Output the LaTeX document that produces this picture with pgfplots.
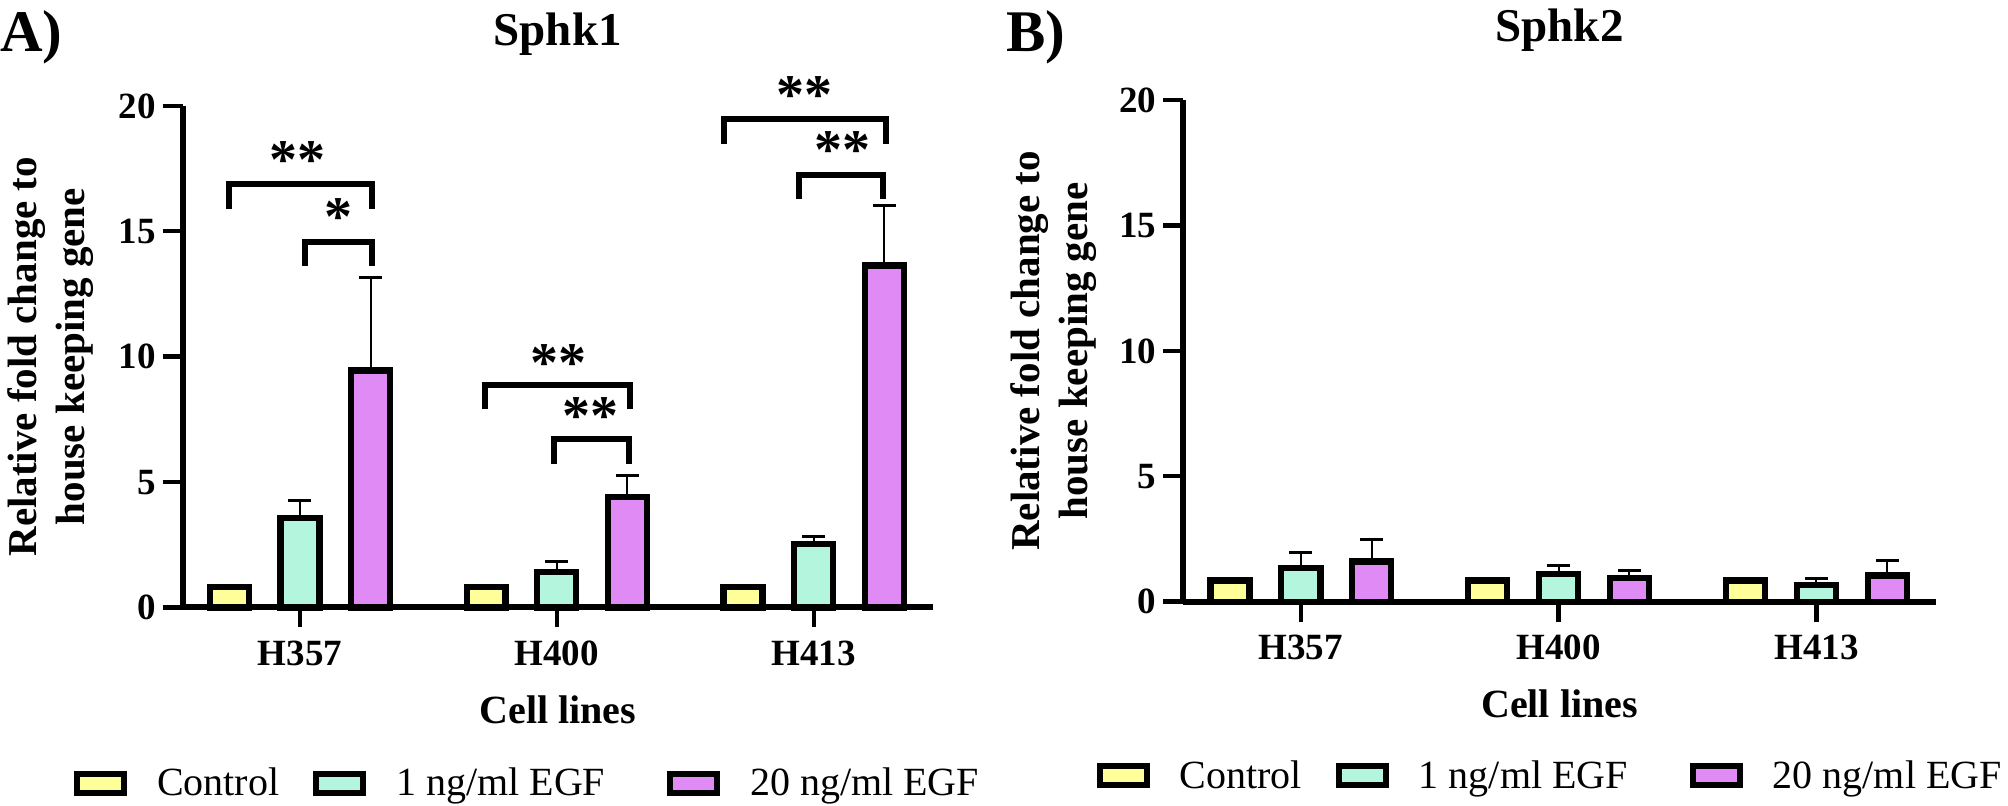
\documentclass[border=0pt]{standalone}
\usepackage{pgfplots}
\pgfplotsset{compat=1.18}
\usepackage{fontspec}
\setmainfont{Liberation Serif}
\definecolor{cctrl}{RGB}{255,255,153}
\definecolor{cone}{RGB}{180,245,222}
\definecolor{ctwenty}{RGB}{224,138,245}

\pgfplotsset{
  legimg/.style={legend image code/.code={\draw[##1, line width=3pt, draw=black] (0pt,-4.75pt) rectangle (23.5pt,4.75pt);}},
  barsty/.style={fill=#1, draw=black, line width=3.15pt, bar width=0.1517, legimg},
  errsty/.style={error bars/.cd, y dir=plus, y explicit,
     error bar style={line width=1pt, black, solid},
     error mark options={rotate=90, line width=1.5pt, black, mark size=5.7pt}},
  panel/.style={
    scale only axis, height=250.8pt, ybar,
    ymin=0, ymax=20, ytick={0,5,10,15,20},
    xmin=-0.456, xmax=2.463, xtick={0,1,2}, xticklabels={H357,H400,H413},
    axis lines*=left, axis line style={line width=3pt},
    tick align=outside, major tick length=10pt, tick style={line width=2.2pt, black},
    clip=false,
    /pgf/number format/assume math mode=true,
    yticklabel style={font=\bfseries\fontsize{18.5}{18.5}\selectfont},
    xticklabel style={font=\bfseries\fontsize{18.5}{18.5}\selectfont, yshift=-3pt},
    xlabel={Cell lines},
    xlabel style={font=\bfseries\fontsize{20}{20}\selectfont, at={(axis description cs:0.5,0)}, anchor=base, yshift=-58pt},
    ylabel={Relative fold change to\\house keeping gene},
    ylabel style={align=center, font=\bfseries\fontsize{20.5}{24}\selectfont, anchor=center},
    title style={font=\bfseries\fontsize{23.5}{23.5}\selectfont, at={(axis description cs:0.5,1)}, anchor=base},
    legend columns=3,
    legend style={draw=none, fill=none, inner sep=0pt, outer sep=0pt, anchor=west,
      font=\fontsize{20}{20}\selectfont, nodes={inner sep=0pt},
      /tikz/every odd column/.append style={column sep=15pt},
      /tikz/column 2/.append style={column sep=17pt},
      /tikz/column 4/.append style={column sep=31pt}},
  },
}

\begin{document}
\begin{tikzpicture}
\useasboundingbox (-91.35pt,-99.25pt) rectangle (912.65pt,303.75pt);

% ---------------- Panel A: Sphk1 ----------------
\begin{axis}[panel, width=375pt, title={Sphk1},
  title style={yshift=24pt},
  ylabel style={at={(axis description cs:-0.176,0.5)}},
  legend style={at={(axis description cs:-0.1449,-0.3499)}}]
\addplot[barsty=cctrl, bar shift=-0.275] table[x=x,y=y] {
x y
0 0.83
1 0.83
2 0.83
};
\addlegendentry{Control}
\addplot[barsty=cone, bar shift=0, errsty] table[x=x,y=y,y error=e] {
x y e
0 3.56 0.70
1 1.41 0.42
2 2.53 0.32
};
\addlegendentry{1 ng/ml EGF}
\addplot[barsty=ctwenty, bar shift=0.275, errsty] table[x=x,y=y,y error=e] {
x y e
0 9.45 3.70
1 4.40 0.88
2 13.64 2.38
};
\addlegendentry{20 ng/ml EGF}
% significance brackets
\draw[line width=3pt] (axis cs:-0.275,15.9) -- (axis cs:-0.275,16.9) -- (axis cs:0.28,16.9) -- (axis cs:0.28,15.9);
\draw[line width=3pt] (axis cs:0.02,13.63) -- (axis cs:0.02,14.58) -- (axis cs:0.28,14.58) -- (axis cs:0.28,13.63);
\draw[line width=3pt] (axis cs:0.72,7.9) -- (axis cs:0.72,8.86) -- (axis cs:1.285,8.86) -- (axis cs:1.285,7.9);
\draw[line width=3pt] (axis cs:0.99,5.74) -- (axis cs:0.99,6.71) -- (axis cs:1.28,6.71) -- (axis cs:1.28,5.74);
\draw[line width=3pt] (axis cs:1.65,18.5) -- (axis cs:1.65,19.49) -- (axis cs:2.28,19.49) -- (axis cs:2.28,18.5);
\draw[line width=3pt] (axis cs:1.942,16.3) -- (axis cs:1.942,17.23) -- (axis cs:2.27,17.23) -- (axis cs:2.27,16.3);
\begin{scope}[every node/.style={font=\bfseries\fontsize{28}{28}\selectfont, inner sep=0pt, anchor=center}]
\node at (axis cs:-0.008,17.85) {**};
\node at (axis cs:0.15,15.55) {*};
\node at (axis cs:1.005,9.75) {**};
\node at (axis cs:1.13,7.65) {**};
\node at (axis cs:1.965,20.45) {**};
\node at (axis cs:2.11,18.25) {**};
\end{scope}
\end{axis}

% ---------------- Panel B: Sphk2 ----------------
\begin{axis}[panel, width=376.2pt, at={(500.3pt,2.9pt)}, title={Sphk2},
  title style={yshift=23.5pt},
  ylabel style={at={(axis description cs:-0.173,0.5)}},
  legend style={at={(axis description cs:-0.1151,-0.3474)}}]
\addplot[barsty=cctrl, bar shift=-0.275] table[x=x,y=y] {
x y
0 0.85
1 0.85
2 0.85
};
\addlegendentry{Control}
\addplot[barsty=cone, bar shift=0, errsty] table[x=x,y=y,y error=e] {
x y e
0 1.34 0.63
1 1.11 0.34
2 0.67 0.26
};
\addlegendentry{1 ng/ml EGF}
\addplot[barsty=ctwenty, bar shift=0.275, errsty] table[x=x,y=y,y error=e] {
x y e
0 1.60 0.86
1 0.94 0.30
2 1.05 0.61
};
\addlegendentry{20 ng/ml EGF}
\end{axis}

\node[anchor=base west, inner sep=0pt, font=\bfseries\fontsize{29.5}{29.5}\selectfont] at (-91.35pt,278pt) {A)};
\node[anchor=base west, inner sep=0pt, font=\bfseries\fontsize{29.5}{29.5}\selectfont] at (411.65pt,278pt) {B)};
\end{tikzpicture}
\end{document}
